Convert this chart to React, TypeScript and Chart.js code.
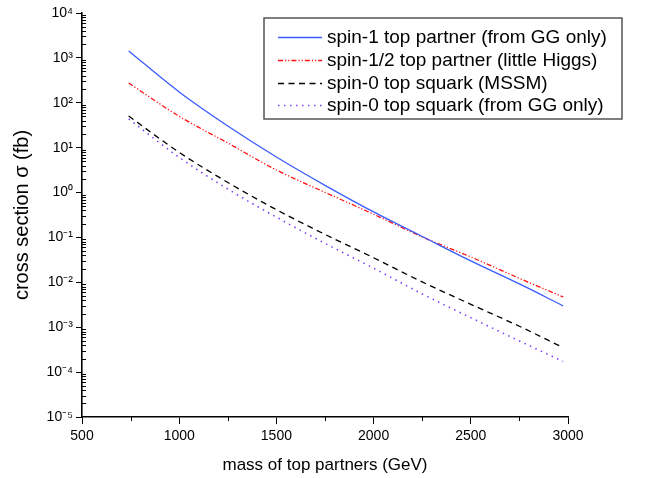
import React, { useEffect, useRef } from "react";
import { Chart, registerables } from "chart.js";

Chart.register(...registerables);

// ---- data ----
const masses = [740, 1000, 1250, 1500, 1750, 2000, 2250, 2500, 2750, 2975];
const spin1GG = [1426, 174, 30.4, 6.2, 1.45, 0.37, 0.105, 0.03, 0.0092, 0.003];
const spinHalfLH = [276, 50, 12.7, 3.18, 1.01, 0.329, 0.1026, 0.0368, 0.0123, 0.00473];
const spin0MSSM = [50.8, 7.85, 1.68, 0.416, 0.1167, 0.0353, 0.0102, 0.00324, 0.00105, 0.000351];
const spin0GG = [43.6, 6.08, 1.2, 0.283, 0.0739, 0.0207, 0.00552, 0.00163, 0.000493, 0.000173];

const seriesLabels = [
  "spin-1 top partner (from GG only)",
  "spin-1/2 top partner (little Higgs)",
  "spin-0 top squark (MSSM)",
  "spin-0 top squark (from GG only)",
];
const xMajorTicks = [500, 1000, 1500, 2000, 2500, 3000];
const xMinorTicks = [750, 1250, 1750, 2250, 2750];
const yExponents = [-5, -4, -3, -2, -1, 0, 1, 2, 3, 4];
const xTitle = "mass of top partners (GeV)";
const yTitle = "cross section \u03c3 (fb)";

const FONT = "'Liberation Sans', Arial, sans-serif";
const SUP: Record<string, string> = {
  "-": "\u207b", "0": "\u2070", "1": "\u00b9", "2": "\u00b2", "3": "\u00b3",
  "4": "\u2074", "5": "\u2075", "6": "\u2076", "7": "\u2077", "8": "\u2078", "9": "\u2079",
};

const pts = (ys: number[]) => masses.map((m, i) => ({ x: m, y: ys[i] }));

const styles = [
  { color: "#3a5cff", dash: [] as number[], width: 1.3 },
  { color: "#ff1010", dash: [5, 2, 1.2, 2, 1.2, 2], width: 1.3 },
  { color: "#000000", dash: [6, 4.5], width: 1.3 },
  { color: "#8040ff", dash: [1.5, 4.5], width: 1.6 },
];

const decorPlugin = {
  id: "decor",
  afterDraw(chart: any) {
    const { ctx, chartArea, scales } = chart;
    const xs = scales.x;
    const ys = scales.y;
    ctx.save();
    // minor ticks
    ctx.strokeStyle = "#000";
    ctx.lineWidth = 1;
    xMinorTicks.forEach((v) => {
      const px = Math.round(xs.getPixelForValue(v)) + 0.5;
      ctx.beginPath();
      ctx.moveTo(px, chartArea.bottom);
      ctx.lineTo(px, chartArea.bottom + 4);
      ctx.stroke();
    });
    for (let e = -5; e < 4; e++) {
      for (let k = 2; k <= 9; k++) {
        const py = Math.round(ys.getPixelForValue(k * Math.pow(10, e))) + 0.5;
        ctx.beginPath();
        ctx.moveTo(chartArea.left, py);
        ctx.lineTo(chartArea.left + 4, py);
        ctx.stroke();
      }
    }
    // legend box
    const bx = 264, by = 18, bw = 358, bh = 101;
    ctx.fillStyle = "#fff";
    ctx.fillRect(bx, by, bw, bh);
    ctx.strokeStyle = "#555";
    ctx.lineWidth = 1.5;
    ctx.strokeRect(bx, by, bw, bh);
    const rows = [37, 60, 83, 105];
    ctx.font = `19px ${FONT}`;
    ctx.textBaseline = "middle";
    ctx.textAlign = "left";
    seriesLabels.forEach((lab, i) => {
      const st = styles[i];
      ctx.strokeStyle = st.color;
      ctx.lineWidth = st.width;
      ctx.setLineDash(st.dash);
      ctx.beginPath();
      ctx.moveTo(278, rows[i] + 0.5);
      ctx.lineTo(322, rows[i] + 0.5);
      ctx.stroke();
      ctx.setLineDash([]);
      ctx.fillStyle = "#000";
      ctx.fillText(lab, 327, rows[i] + 1);
    });
    ctx.restore();
  },
};

export default function App() {
  const ref = useRef<HTMLCanvasElement | null>(null);
  useEffect(() => {
    if (!ref.current) return;
    const chart = new Chart(ref.current, {
      type: "line",
      data: {
        datasets: [spin1GG, spinHalfLH, spin0MSSM, spin0GG].map((ys, i) => ({
          label: seriesLabels[i],
          data: pts(ys),
          borderColor: styles[i].color,
          borderDash: styles[i].dash,
          borderWidth: styles[i].width,
          pointRadius: 0,
          fill: false,
          cubicInterpolationMode: "monotone" as const,
        })),
      },
      plugins: [decorPlugin],
      options: {
        animation: false,
        responsive: false,
        devicePixelRatio: 1,
        layout: { padding: { top: 13, right: 77, left: 0, bottom: 0 } },
        plugins: { legend: { display: false }, tooltip: { enabled: false } },
        scales: {
          x: {
            type: "linear",
            min: 500,
            max: 3000,
            afterBuildTicks: (s: any) => {
              s.ticks = xMajorTicks.map((v) => ({ value: v }));
            },
            afterFit: (s: any) => {
              s.height = 61;
            },
            ticks: {
              autoSkip: false,
              maxRotation: 0,
              color: "#000",
              padding: 4,
              font: { family: FONT, size: 14 },
              callback: (v: any) => String(v),
            },
            grid: { drawOnChartArea: false, drawTicks: true, tickLength: 7, color: "#000", tickWidth: 1 },
            border: { display: true, color: "#000", width: 1.6 },
            title: {
              display: true,
              text: xTitle,
              color: "#000",
              font: { family: FONT, size: 17 },
              padding: { top: 0, bottom: 2 },
            },
          },
          y: {
            type: "logarithmic",
            min: 1e-5,
            max: 1e4,
            afterBuildTicks: (s: any) => {
              s.ticks = yExponents.map((e) => ({ value: Math.pow(10, e) }));
            },
            afterFit: (s: any) => {
              s.width = 82;
            },
            ticks: {
              autoSkip: false,
              color: "#000",
              padding: 3,
              font: { family: FONT, size: 14 },
              callback: (v: any) => {
                const e = Math.round(Math.log10(Number(v)));
                return "10" + String(e).split("").map((c) => SUP[c] || c).join("");
              },
            },
            grid: { drawOnChartArea: false, drawTicks: true, tickLength: 6, color: "#000", tickWidth: 1 },
            border: { display: true, color: "#000", width: 1.6 },
            title: {
              display: true,
              text: yTitle,
              color: "#000",
              font: { family: FONT, size: 20 },
              padding: { top: 10, bottom: 0 },
            },
          },
        },
      },
    } as any);
    return () => chart.destroy();
  }, []);
  return (
    <div style={{ position: "fixed", left: 0, top: 0, width: 645, height: 478, background: "#fff" }}>
      <canvas ref={ref} width={645} height={478} style={{ width: 645, height: 478 }} />
    </div>
  );
}
